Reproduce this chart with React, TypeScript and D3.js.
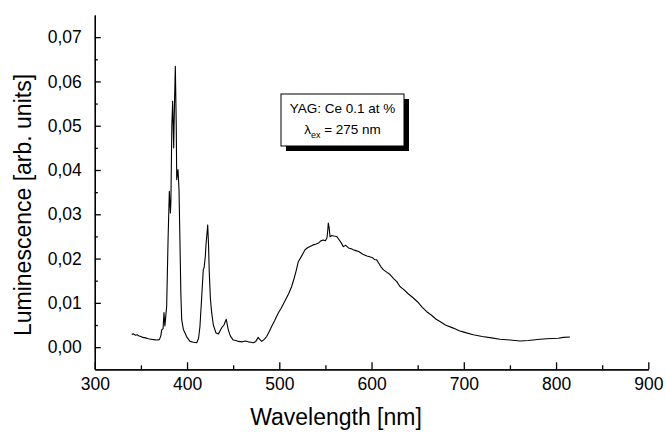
import React, { useEffect, useRef } from 'react';
import * as d3 from 'd3';

// spectrum: wavelength (nm) and luminescence (arb. units)
const wavelengths = [
  340, 342, 344, 346, 348, 350, 352, 355, 358, 361, 364, 367, 370, 371.5, 372.5, 374, 375, 376,
  377.9, 379.5, 380.8, 382, 382.5, 383.5, 384.4, 385.5, 386.5, 387.3, 388.3, 388.8, 390.2, 391.3,
  392.4, 393.3, 394.2, 396, 397.8, 400, 403.2, 407, 410.5, 412.5, 414, 415.9, 417.6, 418.5, 419.8,
  420.5, 422.4, 423.3, 424.1, 425.3, 426.7, 428.5, 431.4, 434, 437.6, 440, 441.5, 442.5, 443.5,
  444.7, 447, 450.1, 453, 455.6, 460, 463, 466.4, 469, 471.8, 474.5, 477.2, 478.5, 480.9, 484,
  486.3, 489, 491.8, 495, 498.9, 502, 506.2, 510, 513.4, 516, 518, 520.6, 524, 527.9, 531, 534,
  536.9, 540, 543, 545, 547.7, 550, 551.7, 552.6, 553.1, 554, 555, 557, 559, 562.2, 565, 567,
  569.4, 572, 575, 578, 580.2, 583, 586, 589, 591.1, 595, 598, 601, 603, 605.6, 608, 610, 612.7,
  616, 620, 624, 627.3, 630.8, 635, 640, 645.3, 650, 655, 659.8, 665, 670, 674.2, 680, 688.6, 695,
  700, 710.3, 720, 730, 739.2, 750, 760.9, 770, 782.6, 790, 802.4, 808, 815,
];
const luminescence = [
  0.0029, 0.003, 0.0027, 0.0028, 0.0025, 0.0024, 0.0022, 0.0021, 0.0019, 0.0018, 0.0017, 0.0016,
  0.0017, 0.0025, 0.0039, 0.0042, 0.0078, 0.0048, 0.0092, 0.025, 0.0352, 0.0303, 0.033, 0.05,
  0.0555, 0.045, 0.056, 0.0634, 0.05, 0.0378, 0.0401, 0.0355, 0.0227, 0.012, 0.0062, 0.004, 0.0032,
  0.0022, 0.0013, 0.0011, 0.001, 0.002, 0.0047, 0.0114, 0.0175, 0.018, 0.0205, 0.023, 0.0276,
  0.023, 0.0168, 0.011, 0.0078, 0.005, 0.0032, 0.003, 0.0044, 0.005, 0.0058, 0.0063, 0.0052,
  0.0039, 0.0025, 0.0016, 0.0015, 0.0013, 0.0012, 0.0014, 0.0012, 0.0011, 0.001, 0.0013, 0.0022,
  0.0018, 0.0013, 0.0018, 0.0024, 0.0035, 0.0047, 0.006, 0.0077, 0.0088, 0.0105, 0.012, 0.0137,
  0.0155, 0.017, 0.0193, 0.0205, 0.022, 0.0225, 0.0228, 0.0231, 0.0233, 0.0236, 0.024, 0.0242,
  0.024, 0.0247, 0.0265, 0.028, 0.027, 0.0249, 0.0252, 0.0251, 0.025, 0.0242, 0.0236, 0.0227,
  0.023, 0.0224, 0.0222, 0.022, 0.0218, 0.0216, 0.0212, 0.0209, 0.0206, 0.0204, 0.0202, 0.0198,
  0.0197, 0.0189, 0.0182, 0.0175, 0.017, 0.0164, 0.0155, 0.0148, 0.0137, 0.013, 0.012, 0.0111,
  0.0102, 0.009, 0.008, 0.0072, 0.0063, 0.0058, 0.005, 0.0043, 0.0037, 0.0034, 0.0028, 0.0024,
  0.0021, 0.0018, 0.0016, 0.0014, 0.0015, 0.0018, 0.0019, 0.002, 0.0022, 0.0023,
];

const xMajor = [300, 400, 500, 600, 700, 800, 900];
const xMinor = [350, 450, 550, 650, 750, 850];
const yMajor = [0, 0.01, 0.02, 0.03, 0.04, 0.05, 0.06, 0.07];
const yMinor = [0.005, 0.015, 0.025, 0.035, 0.045, 0.055, 0.065];

const legendLine1 = 'YAG: Ce 0.1 at %';
const legendLine2 = ['λ', 'ex', ' = 275 nm'];

const font = 'Arial, "Liberation Sans", sans-serif';

export default function App() {
  const xRef = useRef<SVGGElement>(null);
  const yRef = useRef<SVGGElement>(null);

  const width = 665, height = 434;
  const x = d3.scaleLinear().domain([300, 900]).range([94.8, 648.3]);
  const y = d3.scaleLinear().domain([-0.005, 0.075]).range([369.3, 15]);

  const points: [number, number][] = wavelengths.map((w, i) => [w, luminescence[i]]);
  const line = d3.line<[number, number]>()
    .x(d => x(d[0]))
    .y(d => y(d[1]));

  useEffect(() => {
    const gx = d3.select(xRef.current);
    gx.selectAll('*').remove();
    gx.append('g').call(
      d3.axisBottom(x).tickValues(xMajor).tickSize(-7).tickSizeOuter(0).tickPadding(8)
        .tickFormat(d => String(d))
    );
    gx.append('g').call(
      d3.axisBottom(x).tickValues(xMinor).tickSize(-4).tickSizeOuter(0).tickFormat(() => '')
    );
    gx.selectAll('path.domain').attr('stroke-width', 1.3);
    gx.selectAll('line').attr('stroke-width', 1.3);
    gx.selectAll('text').attr('font-family', font).attr('font-size', 17.5).attr('fill', '#000');

    const gy = d3.select(yRef.current);
    gy.selectAll('*').remove();
    gy.append('g').call(
      d3.axisLeft(y).tickValues(yMajor).tickSize(-6).tickSizeOuter(0).tickPadding(13)
        .tickFormat(d => d3.format('.2f')(d as number).replace('.', ','))
    );
    gy.append('g').call(
      d3.axisLeft(y).tickValues(yMinor).tickSize(-3).tickSizeOuter(0).tickFormat(() => '')
    );
    gy.selectAll('path.domain').attr('stroke-width', 1.3);
    gy.selectAll('line').attr('stroke-width', 1.3);
    gy.selectAll('text').attr('font-family', font).attr('font-size', 17.5).attr('fill', '#000');
  }, []);

  const lx = 281, ly = 94, lw = 123, lh = 52;

  return (
    <svg width={width} height={height} style={{ position: 'absolute', left: 0, top: 0, background: '#fff' }}>
      <rect width={width} height={height} fill="#fff" />
      <path d={line(points) || ''} fill="none" stroke="#000" strokeWidth={1.1} strokeLinejoin="round" />
      <g ref={xRef} transform={`translate(0,${y.range()[0]})`} />
      <g ref={yRef} transform={`translate(${x.range()[0]},0)`} />

      <rect x={lx + 5} y={ly + 5} width={lw} height={lh} fill="#000" />
      <rect x={lx} y={ly} width={lw} height={lh} fill="#fff" stroke="#000" strokeWidth={1} />
      <text x={lx + lw / 2} y={ly + 19} textAnchor="middle" fontFamily={font} fontSize={13.5}>
        {legendLine1}
      </text>
      <text x={lx + lw / 2} y={ly + 40} textAnchor="middle" fontFamily={font} fontSize={13.5}>
        <tspan>{legendLine2[0]}</tspan>
        <tspan dy={4} fontSize={9}>{legendLine2[1]}</tspan>
        <tspan dy={-4}>{legendLine2[2]}</tspan>
      </text>

      <text x={336} y={425} textAnchor="middle" fontFamily={font} fontSize={23}>
        Wavelength [nm]
      </text>
      <text transform="translate(31,205) rotate(-90)" textAnchor="middle"
        fontFamily={font} fontSize={23}>
        Luminescence [arb. units]
      </text>
    </svg>
  );
}
